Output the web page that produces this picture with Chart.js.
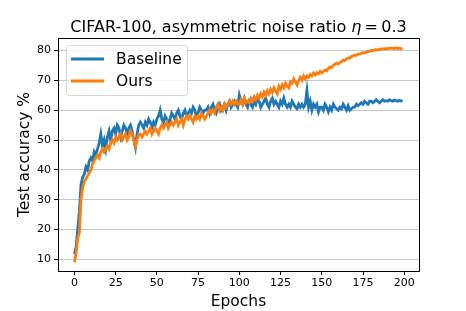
<!DOCTYPE html>
<html>
<head>
<meta charset="utf-8">
<script src="https://cdn.jsdelivr.net/npm/chart.js@4/dist/chart.umd.min.js"></script>
<style>
  html, body { margin: 0; padding: 0; background: #fff; }
  #wrap { width: 466px; height: 311px; }
</style>
</head>
<body>
<div id="wrap"><canvas id="myChart" width="466" height="311"></canvas></div>
<script>
const xTicks = [0, 25, 50, 75, 100, 125, 150, 175, 200];
const yTicks = [10, 20, 30, 40, 50, 60, 70, 80];

const baseline = [
  11.8, 14, 20, 26, 35, 37.5, 38.5, 41, 40, 43,
  44, 43, 46, 45, 47, 49, 52, 48, 50, 47,
  51, 53, 50, 53, 54, 52, 55, 54, 51, 53,
  55, 54, 52, 54, 55, 53, 50, 47.5, 52, 55,
  56, 55, 54, 56, 55, 57, 56, 54, 56, 55,
  57, 58, 60, 57, 56, 58, 57, 55, 57, 59,
  58, 57, 59, 60, 58, 57, 59, 60, 58, 59,
  60, 59, 61, 60, 58, 59, 61, 60, 59, 60,
  60, 61, 59, 61, 62, 60, 59, 61, 62, 60,
  61, 62, 60, 62, 63, 61, 62, 63, 62, 61,
  65, 63, 62, 64, 62, 61, 63, 62, 61, 63,
  62, 64, 63, 61, 62, 63, 64, 62, 61, 63,
  64, 62, 63, 62, 61, 63, 62, 64, 62, 61,
  62, 61, 63, 62, 61, 60.5, 62, 61, 62, 61,
  62, 66.5, 61, 63, 60, 62, 61, 62, 59.4, 61,
  61, 60, 62, 61, 59.5, 61, 60, 62, 61, 60.5,
  60, 61, 60.5, 62, 61, 60, 61.5, 60, 60.5, 61,
  61, 62, 61.5, 62, 62.5, 62, 63, 62.5, 62, 63,
  63, 62.5, 63, 63.5, 63, 62.5, 63, 63.5, 63, 63.2,
  63, 63.5, 63.2, 63, 63.4, 63.2, 63, 63.3, 63.1, 63.2
];

const ours = [
  9, 12, 17, 19, 30, 34, 36, 37, 38, 39,
  40, 42, 43, 44, 45, 44, 46, 47, 46, 47,
  48, 47, 49, 50, 49, 51, 50, 51, 52, 50,
  51, 52, 50, 51, 53, 52, 50, 48, 50, 52,
  52, 51, 52, 53, 52, 53, 54, 52, 53, 54,
  53, 52, 54, 55, 54, 55, 56, 54, 55, 56,
  55, 56, 57, 55, 56, 57, 55, 57, 58, 57,
  58, 57, 56, 58, 57, 58, 57, 59, 58, 57,
  58, 59, 60, 59, 60, 59, 61, 62, 60, 61,
  60, 62, 61, 62, 63, 62, 63, 62, 63, 62,
  62, 63.5, 62, 64, 62.5, 63, 62.5, 64, 63, 64.5,
  63.5, 65, 64, 65.5, 64.5, 66, 65, 66.5, 65.5, 67,
  66, 67.5, 66.5, 65.5, 68, 67, 68.5, 67.5, 69, 68,
  67.5, 69.5, 69, 70.5, 69.5, 68.5, 70, 71, 70, 71.5,
  70.5, 71.5, 71, 72, 71.5, 72.5, 71.8, 72.5, 72.2, 73,
  72.5, 73, 73.5, 73.2, 74, 74.5, 74.3, 75, 75.4, 75.8,
  75.5, 76, 76.2, 76.8, 76.6, 77.2, 77.5, 77.4, 78, 78.2,
  78.5, 78.4, 78.8, 78.9, 79.1, 79.3, 79.2, 79.5, 79.6, 79.8,
  80, 79.9, 80.2, 80.3, 80.2, 80.5, 80.4, 80.6, 80.5, 80.7,
  80.6, 80.8, 80.7, 80.8, 80.6, 80.9, 80.7, 80.8, 80.6, 80.5
];

const FONT = "'DejaVu Sans', sans-serif";

const toPoints = (arr) => arr.map((v, i) => ({ x: i, y: v }));

// title centred over the axes, box around the plot, legend inside
const frameAndLegend = {
  id: "frameAndLegend",
  afterDraw(chart) {
    const { ctx, chartArea: { left, top, right, bottom } } = chart;
    ctx.save();
    ctx.strokeStyle = "#000";
    ctx.lineWidth = 1;
    ctx.strokeRect(Math.round(left) + 0.5, Math.round(top) + 0.5, Math.round(right - left), Math.round(bottom - top));

    // title, eta in italic
    const parts = [
      { t: "CIFAR-100, asymmetric noise ratio ", f: "16px " + FONT },
      { t: "\u03b7", f: "italic 16px " + FONT },
      { t: "\u2009=\u20090.3", f: "16px " + FONT }
    ];
    let total = 0;
    parts.forEach((p) => { ctx.font = p.f; p.w = ctx.measureText(p.t).width; total += p.w; });
    let tx = (left + right) / 2 - total / 2;
    ctx.fillStyle = "#000";
    ctx.textBaseline = "alphabetic";
    parts.forEach((p) => { ctx.font = p.f; ctx.fillText(p.t, tx, 32); tx += p.w; });

    // legend
    const bx = left + 8, by = top + 7, bw = 121, bh = 50;
    ctx.beginPath();
    ctx.roundRect(bx + 0.5, by + 0.5, bw, bh, 3);
    ctx.fillStyle = "rgba(255,255,255,0.8)";
    ctx.fill();
    ctx.strokeStyle = "#d6d6d6";
    ctx.stroke();

    ctx.font = "15.5px " + FONT;
    ctx.textBaseline = "middle";
    chart.data.datasets.forEach((ds, i) => {
      const yy = by + 14 + i * 22;
      ctx.beginPath();
      ctx.moveTo(bx + 5, yy);
      ctx.lineTo(bx + 38, yy);
      ctx.strokeStyle = ds.borderColor;
      ctx.lineWidth = 3;
      ctx.stroke();
      ctx.fillStyle = "#000";
      ctx.fillText(ds.label, bx + 50, yy + 1);
    });
    ctx.restore();
  }
};

const ctx = document.getElementById("myChart");

new Chart(ctx, {
  type: "line",
  data: {
    datasets: [
      {
        label: "Baseline",
        data: toPoints(baseline),
        borderColor: "#1f77b4",
        borderWidth: 2.8,
        pointRadius: 0,
        tension: 0,
        order: 1
      },
      {
        label: "Ours",
        data: toPoints(ours),
        borderColor: "#ff7f0e",
        borderWidth: 2.8,
        pointRadius: 0,
        tension: 0,
        order: 0
      }
    ]
  },
  options: {
    responsive: false,
    animation: false,
    events: [],
    layout: { padding: { left: 0, right: 47, top: 38, bottom: 0 } },
    plugins: {
      legend: { display: false },
      tooltip: { enabled: false },
      title: { display: false }
    },
    scales: {
      x: {
        type: "linear",
        min: -9.95,
        max: 208.95,
        afterBuildTicks: (s) => { s.ticks = xTicks.map((v) => ({ value: v })); },
        afterFit: (s) => { s.height = 40; },
        grid: { display: true, drawOnChartArea: false, tickLength: 4, tickColor: "#000" },
        border: { display: false },
        ticks: { color: "#000", font: { family: FONT, size: 11 }, padding: 2, maxRotation: 0 },
        title: { display: true, text: "Epochs", color: "#000", font: { family: FONT, size: 15.5 }, padding: { top: 0, bottom: 0 } }
      },
      y: {
        min: 6.1,
        max: 84.2,
        afterBuildTicks: (s) => { s.ticks = yTicks.map((v) => ({ value: v })); },
        afterFit: (s) => { s.width = 58; },
        grid: { color: "#c8c8c8", lineWidth: 1, tickLength: 4, tickColor: "#000" },
        border: { display: false },
        ticks: { color: "#000", font: { family: FONT, size: 11 }, padding: 3 },
        title: { display: true, text: "Test accuracy %", color: "#000", font: { family: FONT, size: 15.5 }, padding: { top: 16, bottom: 0 } }
      }
    }
  },
  plugins: [frameAndLegend]
});
</script>
</body>
</html>
